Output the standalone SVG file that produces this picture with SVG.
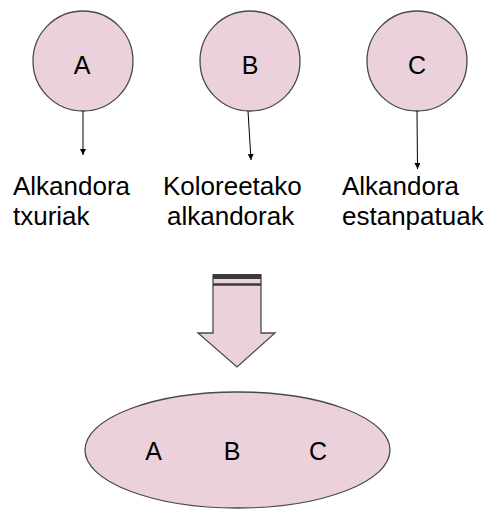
<svg xmlns="http://www.w3.org/2000/svg" width="489" height="510" viewBox="0 0 489 510">
<defs>
<marker id="ah" viewBox="0 0 6 6" refX="6" refY="3" markerWidth="6" markerHeight="6" orient="auto" markerUnits="userSpaceOnUse">
<path d="M0,0 L6,3 L0,6 Z" fill="#000"/>
</marker>
<style>
.n{fill:#ead1dc;stroke:#4a4a4a;stroke-width:1.3}
.t{font-family:"Liberation Sans",Arial,sans-serif;font-size:25px;fill:#000}
.l{font-family:"Liberation Sans",Arial,sans-serif;font-size:26px;fill:#000}
.c{fill:none;stroke:#000;stroke-width:1}
</style>
</defs>
<rect width="489" height="510" fill="#fff"/>
<g id="nodeA"><circle class="n" cx="83" cy="61" r="50"/><text class="t" x="82" y="74" text-anchor="middle">A</text></g>
<g id="nodeB"><circle class="n" cx="250" cy="61" r="50"/><text class="t" x="250" y="74" text-anchor="middle">B</text></g>
<g id="nodeC"><circle class="n" cx="417" cy="61" r="50"/><text class="t" x="417" y="74" text-anchor="middle">C</text></g>
<g id="labelA"><text class="l" x="13" y="195">Alkandora</text><text class="l" x="13" y="225">txuriak</text></g>
<g id="labelB"><text class="l" x="163" y="195">Koloreetako</text><text class="l" x="167" y="225">alkandorak</text></g>
<g id="labelC"><text class="l" x="342" y="195">Alkandora</text><text class="l" x="342" y="225">estanpatuak</text></g>
<g id="connectors">
<line class="c" x1="83" y1="111" x2="83" y2="155" marker-end="url(#ah)"/>
<line class="c" x1="248" y1="111" x2="251" y2="160" marker-end="url(#ah)"/>
<line class="c" x1="417" y1="111" x2="417.5" y2="169" marker-end="url(#ah)"/>
</g>
<g id="bigArrow">
<path class="n" d="M213,275 L261,275 L261,333 L275,333 L237,367 L198,333 L213,333 Z"/>
<rect x="213" y="274" width="48" height="5" fill="#3a3a3a"/>
<line x1="213" y1="284.5" x2="261" y2="284.5" stroke="#3a3a3a" stroke-width="2.5"/>
</g>
<g id="nodeABC"><ellipse class="n" cx="237.5" cy="450" rx="152.5" ry="58"/>
<text class="t" x="153.5" y="460" text-anchor="middle">A</text>
<text class="t" x="232" y="460" text-anchor="middle">B</text>
<text class="t" x="318" y="460" text-anchor="middle">C</text></g>
</svg>
